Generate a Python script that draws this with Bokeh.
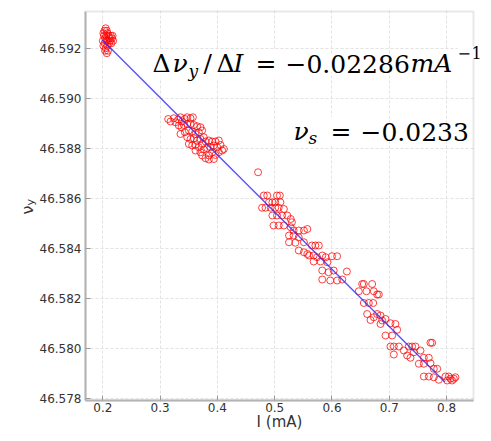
from math import pi
from bokeh.plotting import figure
from bokeh.models import Range1d, FixedTicker, PrintfTickFormatter, Label, BoxAnnotation
from bokeh.embed import file_html
from bokeh.resources import INLINE

# ---------------- data ----------------
current_I = [
    # cluster ~0.21 mA
    0.201, 0.203, 0.205, 0.207, 0.202, 0.204, 0.206, 0.208, 0.210, 0.212, 0.214, 0.216, 0.218,
    0.200, 0.203, 0.206, 0.209, 0.211, 0.213, 0.215, 0.217, 0.204, 0.207, 0.205, 0.209, 0.201, 0.208,
    # cluster ~0.36 mA
    0.3141, 0.3182, 0.3240, 0.3269, 0.3316, 0.3356, 0.3385, 0.3432, 0.3473, 0.3531, 0.3572,
    0.3327, 0.3374, 0.3414, 0.3473, 0.3531, 0.3589, 0.3647, 0.3705,
    0.3356, 0.3432, 0.3502, 0.3560, 0.3618, 0.3676, 0.3734,
    0.3473, 0.3531, 0.3589, 0.3647, 0.3705, 0.3763,
    0.3502, 0.3560, 0.3618, 0.3676, 0.3734, 0.3793, 0.3851, 0.3909, 0.3967, 0.4025,
    0.3618, 0.3705, 0.3763, 0.3822, 0.3880, 0.3938, 0.3996, 0.4054, 0.4113,
    0.3734, 0.3793, 0.3851, 0.3909, 0.3967, 0.4025, 0.4083, 0.3938, 0.3851,
    # cluster ~0.55 mA
    0.471, 0.481, 0.487, 0.504, 0.509, 0.490, 0.496, 0.501, 0.510,
    0.478, 0.484, 0.493, 0.501, 0.507, 0.516, 0.496, 0.504, 0.513, 0.522, 0.528,
    0.498, 0.507, 0.516, 0.530, 0.528, 0.533, 0.542, 0.551, 0.557,
    0.525, 0.533, 0.542, 0.551, 0.525, 0.536, 0.542, 0.551, 0.557, 0.565, 0.571, 0.577,
    0.560, 0.568, 0.574, 0.583, 0.589, 0.568, 0.580, 0.592, 0.600, 0.609,
    0.583, 0.594, 0.603, 0.626, 0.583, 0.597, 0.609, 0.618,
    # cluster ~0.73 mA
    0.6527, 0.6556, 0.6701, 0.6468, 0.6602, 0.6730, 0.6788, 0.6818, 0.6556, 0.6643, 0.6719,
    0.6614, 0.6672, 0.6730, 0.6788, 0.6847, 0.6876, 0.6934, 0.7021, 0.7108, 0.6847,
    0.6934, 0.7050, 0.7137, 0.7021, 0.7079, 0.7167, 0.7254, 0.7341, 0.7399, 0.7457,
    0.7428, 0.7312, 0.7370, 0.7545, 0.7079, 0.7719, 0.7748, 0.7603, 0.7690, 0.7516,
    0.7603, 0.7719, 0.7777, 0.7836, 0.7603, 0.7690, 0.7777, 0.7865, 0.7981, 0.8039,
    0.8068, 0.8126, 0.8155, 0.8010, 0.8097,
]
nu_y = [
    46.5926, 46.5927, 46.5928, 46.5927, 46.5925, 46.5924, 46.5925, 46.5926, 46.5925, 46.5924, 46.5925, 46.5924, 46.5923,
    46.5923, 46.5922, 46.5923, 46.5923, 46.5922, 46.5923, 46.5922, 46.5925, 46.5919, 46.5918, 46.5920, 46.5919, 46.5921, 46.5921,
    46.58917, 46.58907, 46.58920, 46.58904, 46.58915, 46.58924, 46.58907, 46.58917, 46.58924, 46.58920, 46.58924,
    46.58891, 46.58884, 46.58893, 46.58897, 46.58897, 46.58893, 46.58888, 46.58884,
    46.58857, 46.58864, 46.58871, 46.58867, 46.58857, 46.58864, 46.58871,
    46.58844, 46.58837, 46.58840, 46.58831, 46.58837, 46.58844,
    46.58817, 46.58811, 46.58813, 46.58804, 46.58817, 46.58827, 46.58831, 46.58827, 46.58827, 46.58831,
    46.58791, 46.58784, 46.58795, 46.58800, 46.58804, 46.58811, 46.58804, 46.58813, 46.58797,
    46.58771, 46.58760, 46.58771, 46.58784, 46.58773, 46.58784, 46.58791, 46.58757, 46.58755,
    46.58704, 46.58611, 46.58611, 46.58611, 46.58611, 46.58584, 46.58584, 46.58584, 46.58584,
    46.58562, 46.58562, 46.58562, 46.58562, 46.58562, 46.58557, 46.58531, 46.58531, 46.58531, 46.58531, 46.58517,
    46.58491, 46.58491, 46.58491, 46.58504, 46.58484, 46.58471, 46.58471, 46.58471, 46.58477,
    46.58451, 46.58451, 46.58444, 46.58424, 46.58424, 46.58422, 46.58391, 46.58384, 46.58377, 46.58411, 46.58411, 46.58411,
    46.58371, 46.58371, 46.58364, 46.58371, 46.58364, 46.58347, 46.58347, 46.58344, 46.58368, 46.58368,
    46.58311, 46.58304, 46.58311, 46.58307, 46.58275, 46.58271, 46.58271, 46.58275,
    46.58257, 46.58257, 46.58257, 46.58228, 46.58228, 46.58228, 46.58215, 46.58215, 46.58181, 46.58181, 46.58181,
    46.58137, 46.58113, 46.58124, 46.58137, 46.58131, 46.58111, 46.58117, 46.58100, 46.58097, 46.58097,
    46.58051, 46.58051, 46.58074, 46.58007, 46.58007, 46.58007, 46.57991, 46.58007, 46.58007, 46.58007,
    46.57984, 46.57971, 46.57962, 46.57991, 46.57975, 46.58022, 46.58022, 46.57962, 46.57962, 46.57938,
    46.57938, 46.57940, 46.57918, 46.57918, 46.57887, 46.57887, 46.57884, 46.57874, 46.57887, 46.57887,
    46.57878, 46.57878, 46.57884, 46.57871, 46.57871,
]
fit_I = [0.199, 0.797]
fit_nu = [46.59234, 46.57865]
x_ticks = [0.2, 0.3, 0.4, 0.5, 0.6, 0.7, 0.8]
y_ticks = [46.578, 46.580, 46.582, 46.584, 46.586, 46.588, 46.590, 46.592]
slope_value = "−0.02286"
nu_s_value = "−0.0233"
x_label = "I (mA)"
y_label_main = "ν"
y_label_sub = "y"

# ---------------- layout (pixels) ----------------
W, H = 483, 433
BL, BR, BT, BB = 85, 473, 11, 400     # visible box: left / right / top / bottom
X0, X1 = 0.1698, 0.847                # x values at BL and BR
Y0, Y1 = 46.57791, 46.59347           # y values at BB and BT
XPP = (X1 - X0) / (BR - BL)
YPP = (Y1 - Y0) / (BB - BT)

def X(px):
    return X0 + (px - BL) * XPP
def Y(py):
    return Y1 - (py - BT) * YPP

# the frame spans the whole canvas so that no text is clipped; the axes are
# pinned to the visible box with fixed_location
xr = Range1d(X(0), X(W))
yr = Range1d(Y(H), Y(0))
p = figure(width=W, height=H, x_range=xr, y_range=yr,
           output_backend="svg", toolbar_location=None,
           min_border=0, min_border_left=0, min_border_right=0,
           min_border_top=0, min_border_bottom=0,
           background_fill_color="white", border_fill_color="white")
p.outline_line_color = None

p.grid.grid_line_color = "#e2e2e2"
p.grid.grid_line_dash = "3 2"
# hide the grid outside the visible box
for l, r, b, t in ((X(-2), X(BL - 1), Y(H + 2), Y(-2)),
                   (X(BR + 1), X(W + 2), Y(H + 2), Y(-2)),
                   (X(-2), X(W + 2), Y(BT - 1), Y(-2)),
                   (X(-2), X(W + 2), Y(H + 2), Y(BB + 1))):
    p.add_layout(BoxAnnotation(left=l, right=r, bottom=b, top=t, level="underlay",
                               fill_color="white", fill_alpha=1.0, line_color=None))

p.scatter(current_I, nu_y, marker="circle", size=7, fill_color=None,
          line_color="#ff0000", line_alpha=0.75, line_width=1)
p.line(fit_I, fit_nu, line_color="#3030ff", line_width=1.3, line_alpha=0.85)

p.xaxis.ticker = FixedTicker(ticks=x_ticks)
p.yaxis.ticker = FixedTicker(ticks=y_ticks)
p.xaxis.formatter = PrintfTickFormatter(format="%.1f")
p.yaxis.formatter = PrintfTickFormatter(format="%.3f")
p.xaxis.bounds = (X0, X1)
p.yaxis.bounds = (Y0, Y1)
p.xaxis.fixed_location = Y0
p.yaxis.fixed_location = X0
for ax in p.axis:
    ax.axis_line_color = "#b4b4b4"
    ax.axis_line_width = 2
    ax.major_tick_in = 5
    ax.major_tick_out = 0
    ax.major_tick_line_color = "#999999"
    ax.minor_tick_line_color = None
    ax.major_label_text_font = "DejaVu Sans"
    ax.major_label_text_font_size = "12px"
    ax.major_label_text_color = "#333333"
p.yaxis.major_label_standoff = 4
p.xaxis.major_label_standoff = 2
p.xaxis.axis_label = x_label
p.xaxis.axis_label_text_font = "DejaVu Sans"
p.xaxis.axis_label_text_font_size = "15px"
p.xaxis.axis_label_text_font_style = "normal"
p.xaxis.axis_label_text_color = "#333333"
p.xaxis.axis_label_standoff = -2

# border box (top / right edges)
p.add_layout(BoxAnnotation(left=X0, right=X1, bottom=Y0, top=Y1,
                           fill_color=None, fill_alpha=0, line_color="#b4b4b4",
                           line_width=2))

# y-axis label nu_y (rotated)
p.add_layout(Label(x=X(27), y=Y(214), text=y_label_main, angle=pi / 2,
                   text_font="DejaVu Sans", text_font_size="16px", text_color="#333333",
                   text_align="left", text_baseline="alphabetic"))
p.add_layout(Label(x=X(30), y=Y(205), text=y_label_sub, angle=pi / 2,
                   text_font="DejaVu Sans", text_font_size="11px", text_color="#333333",
                   text_align="left", text_baseline="alphabetic"))

pieces = [
    ("Δ", 152, 63, 25, "normal"),
    ("ν", 172, 63, 25, "italic"),
    ("y", 188, 70, 17, "italic"),
    ("/", 203, 63, 25, "normal"),
    ("Δ", 216, 63, 25, "normal"),
    ("I", 233, 63, 25, "italic"),
    ("=", 255, 63, 25, "normal"),
    (slope_value, 285, 63, 25, "normal"),
    ("mA", 410, 63, 25, "italic"),
    ("−", 457, 52, 16, "normal"),
    ("1", 471, 52, 16, "normal"),
    ("ν", 293, 131, 25, "italic"),
    ("s", 308, 137, 17, "italic"),
    ("=", 330, 131, 25, "normal"),
    (nu_s_value, 360, 131, 25, "normal"),
]
for txt, px, py, fs, st in pieces:
    p.add_layout(Label(x=X(px), y=Y(py), text=txt, text_font="DejaVu Serif",
                       text_font_size=f"{fs}px", text_font_style=st,
                       text_color="black", text_align="left", text_baseline="alphabetic",
                       background_fill_color="white", background_fill_alpha=1.0))

open("out.html", "w").write(file_html(p, INLINE))
